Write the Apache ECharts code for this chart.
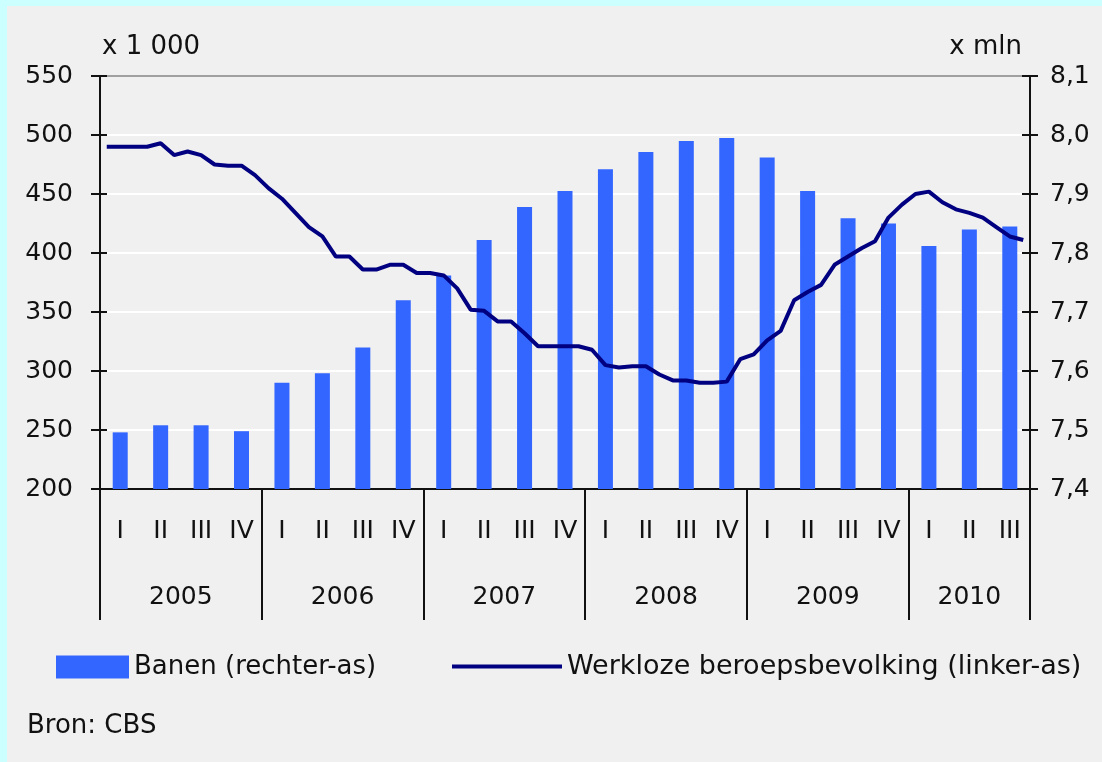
<!DOCTYPE html>
<html>
<head>
<meta charset="utf-8">
<script src="https://cdn.jsdelivr.net/npm/echarts@6/dist/echarts.min.js"></script>
<style>
  html, body { margin: 0; padding: 0; background: #ccffff; overflow: hidden; }
  #chart { position: absolute; left: 7px; top: 6px; width: 1095px; height: 756px; background: #f0f0f0; }
</style>
</head>
<body>
<div id="chart"></div>
<script>
// Banen vs werkloze beroepsbevolking, 2005-2010
const years = ["2005", "2006", "2007", "2008", "2009", "2010"];
const yearCenters = [2, 6, 10, 14, 18, 21.5];
const yearBounds = [0, 4, 8, 12, 16, 20, 23];
const quarters = [
  "I", "II", "III", "IV", "I", "II", "III", "IV", "I", "II", "III", "IV",
  "I", "II", "III", "IV", "I", "II", "III", "IV", "I", "II", "III"
];
// banen, x mln (rechter-as)
const banen = [
  7.496, 7.508, 7.508, 7.498, 7.58, 7.596, 7.64, 7.72, 7.762, 7.822, 7.878, 7.905,
  7.942, 7.971, 7.99, 7.995, 7.962, 7.905, 7.859, 7.85, 7.812, 7.84, 7.845
];
// werkloze beroepsbevolking, x 1 000, per maand (linker-as)
const werkloos = [
  490, 490, 490, 490, 493, 483, 486, 483, 475, 474, 474, 466,
  455, 446, 434, 422, 414, 397, 397, 386, 386, 390, 390, 383,
  383, 381, 370, 352, 351, 342, 342, 332, 321, 321, 321, 321,
  318, 305, 303, 304, 304, 297, 292, 292, 290, 290, 291, 310,
  314, 326, 334, 360, 367, 373, 390, 397, 404, 410, 430, 441,
  450, 452, 443, 437, 434, 430, 422, 414, 411
];
const months = werkloos.map((_, i) => years[Math.floor(i / 12)] + "-" + (i % 12 + 1));

const font = "'DejaVu Sans', Verdana, sans-serif";
const txt = { color: "#111", fontFamily: font, fontSize: 25 };
const big = { color: "#111", fontFamily: font, fontSize: 26 };
const black = { color: "#111", width: 2 };

const chart = echarts.init(document.getElementById("chart"), null, { renderer: "canvas" });
chart.setOption({
  animation: false,
  textStyle: { fontFamily: font },
  grid: { left: 93, right: 72, top: 70, bottom: 273 },
  legend: [
    {
      data: ["Banen (rechter-as)"], left: 49, top: 648, padding: 0,
      icon: "rect", itemWidth: 73, itemHeight: 23, textStyle: big, selectedMode: false,
    },
    {
      data: ["Werkloze beroepsbevolking (linker-as)"], left: 445, top: 647, padding: 0,
      icon: "rect", itemWidth: 110, itemHeight: 4, textStyle: { ...big, fontSize: 27 }, selectedMode: false,
    },
  ],
  graphic: [
    { type: "text", left: 20, top: 707, style: { text: "Bron: CBS", fill: "#111", font: "26px " + font } },
  ],
  xAxis: [
    {
      type: "category", data: quarters,
      axisLine: { lineStyle: black },
      axisTick: { show: false },
      axisLabel: { ...txt, margin: 30, interval: 0 },
    },
    {
      type: "value", min: 0, max: 23, position: "bottom",
      axisLine: { show: false },
      axisTick: { show: true, customValues: yearBounds, length: 131, lineStyle: black },
      axisLabel: {
        ...txt, margin: 96, customValues: yearCenters,
        formatter: (v) => years[yearCenters.indexOf(v)],
      },
      splitLine: { show: false },
    },
    {
      type: "category", data: months, show: false,
    },
  ],
  yAxis: [
    {
      type: "value", min: 200, max: 550, interval: 50, position: "left",
      name: "x 1 000", nameLocation: "end", nameGap: 16,
      nameTextStyle: { ...big, align: "left", padding: [0, 0, 0, 2] },
      axisLine: { show: true, lineStyle: black },
      axisTick: { show: true, length: 9, lineStyle: black },
      axisLabel: { ...txt, margin: 27 },
      splitLine: {
        show: true,
        lineStyle: { width: 2, color: ["#ffffff", "#ffffff", "#ffffff", "#ffffff", "#ffffff", "#ffffff", "#ffffff", "#a0a0a0"] },
      },
    },
    {
      type: "value", min: 7.4, max: 8.1, interval: 0.1, position: "right",
      name: "x mln", nameLocation: "end", nameGap: 16,
      nameTextStyle: { ...big, align: "right", padding: [0, 8, 0, 0] },
      axisLine: { show: true, lineStyle: black },
      axisTick: { show: true, length: 8, lineStyle: black },
      axisLabel: { ...txt, margin: 20, formatter: (v) => v.toFixed(1).replace(".", ",") },
      splitLine: { show: false },
    },
    {
      type: "value", min: 200, max: 550, interval: 50, position: "left",
      axisLine: { show: false }, axisLabel: { show: false }, splitLine: { show: false },
      axisTick: { show: true, inside: true, length: 7, lineStyle: black },
    },
    {
      type: "value", min: 7.4, max: 8.1, interval: 0.1, position: "right",
      axisLine: { show: false }, axisLabel: { show: false }, splitLine: { show: false },
      axisTick: { show: true, inside: true, length: 8, lineStyle: black },
    },
  ],
  series: [
    {
      name: "Banen (rechter-as)", type: "bar", data: banen,
      xAxisIndex: 0, yAxisIndex: 1, barWidth: 15,
      itemStyle: { color: "#3366ff" },
    },
    {
      name: "Werkloze beroepsbevolking (linker-as)", type: "line", data: werkloos,
      xAxisIndex: 2, yAxisIndex: 0, symbol: "none",
      lineStyle: { color: "#000080", width: 4 }, itemStyle: { color: "#000080" },
    },
  ],
});
</script>
</body>
</html>
